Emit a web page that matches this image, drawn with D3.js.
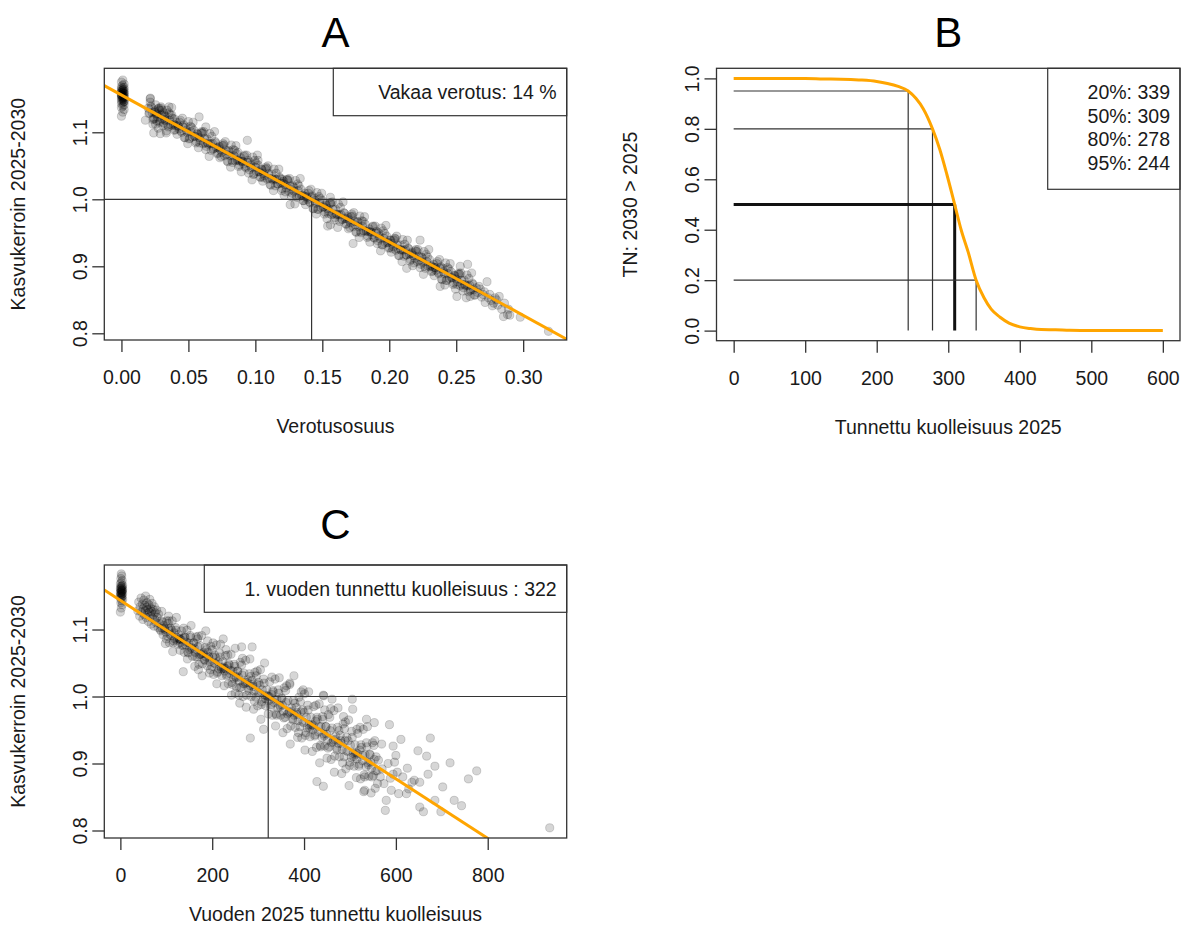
<!DOCTYPE html>
<html>
<head>
<meta charset="utf-8">
<script src="https://cdn.jsdelivr.net/npm/d3@7"></script>
<style>
  body { margin: 0; background: #fff; }
  text { font-family: "Liberation Sans", Arial, sans-serif; }
</style>
</head>
<body>
<script>
// ---------- data ----------

// A: tax share vs growth factor (x = 0 column, main band, loose points)
const aPoints = [
  [0.000,1.124],[0.001,1.130],[0.002,1.134],[0.000,1.137],[0.001,1.139],[0.002,1.141],[0.000,1.143],[0.001,1.144],[0.002,1.146],[0.000,1.147],
  [0.001,1.148],[0.002,1.149],[0.000,1.150],[0.001,1.151],[0.002,1.152],[0.000,1.153],[0.001,1.154],[0.002,1.155],[0.000,1.156],[0.001,1.157],
  [0.002,1.158],[0.000,1.159],[0.001,1.160],[0.002,1.161],[0.000,1.162],[0.001,1.163],[0.002,1.164],[0.000,1.165],[0.001,1.166],[0.002,1.167],
  [0.000,1.168],[0.001,1.170],[0.002,1.172],[0.000,1.175],[0.001,1.178],[0.001,1.152],[0.000,1.155],[0.002,1.158],[0.001,1.150],[0.000,1.160],
  [0.002,1.146],[0.001,1.163],[0.000,1.156],[0.002,1.153],[0.001,1.159],
  [0.020,1.136],[0.021,1.129],[0.022,1.139],[0.023,1.129],[0.024,1.121],[0.025,1.132],[0.026,1.127],[0.027,1.123],[0.028,1.136],[0.029,1.118],
  [0.030,1.126],[0.031,1.110],[0.032,1.126],[0.033,1.117],[0.034,1.133],[0.035,1.108],[0.036,1.118],[0.037,1.111],[0.038,1.121],[0.039,1.112],
  [0.040,1.104],[0.041,1.115],[0.042,1.110],[0.043,1.105],[0.044,1.118],[0.045,1.100],[0.046,1.108],[0.047,1.092],[0.048,1.108],[0.049,1.100],
  [0.050,1.116],[0.051,1.091],[0.052,1.101],[0.053,1.093],[0.054,1.103],[0.055,1.094],[0.056,1.086],[0.057,1.097],[0.058,1.092],[0.059,1.088],
  [0.060,1.101],[0.061,1.083],[0.062,1.091],[0.063,1.074],[0.064,1.090],[0.065,1.082],[0.066,1.098],[0.067,1.073],[0.068,1.083],[0.069,1.076],
  [0.070,1.086],[0.071,1.077],[0.072,1.069],[0.073,1.079],[0.074,1.074],[0.075,1.070],[0.076,1.083],[0.077,1.065],[0.078,1.073],[0.079,1.057],
  [0.080,1.073],[0.081,1.065],[0.082,1.081],[0.083,1.055],[0.084,1.065],[0.085,1.058],[0.086,1.068],[0.087,1.059],[0.088,1.051],[0.089,1.062],
  [0.090,1.057],[0.091,1.053],[0.092,1.066],[0.093,1.047],[0.094,1.055],[0.095,1.039],[0.096,1.055],[0.097,1.047],[0.098,1.063],[0.099,1.038],
  [0.100,1.048],[0.101,1.041],[0.102,1.051],[0.103,1.041],[0.104,1.033],[0.105,1.044],[0.106,1.039],[0.107,1.035],[0.108,1.048],[0.109,1.030],
  [0.110,1.038],[0.111,1.022],[0.112,1.038],[0.113,1.029],[0.114,1.045],[0.115,1.020],[0.116,1.030],[0.117,1.023],[0.118,1.033],[0.119,1.024],
  [0.120,1.016],[0.121,1.027],[0.122,1.022],[0.123,1.017],[0.124,1.030],[0.125,1.012],[0.126,1.020],[0.127,1.004],[0.128,1.020],[0.129,1.012],
  [0.130,1.028],[0.131,1.003],[0.132,1.013],[0.133,1.005],[0.134,1.015],[0.135,1.006],[0.136,0.998],[0.137,1.009],[0.138,1.004],[0.139,1.000],
  [0.140,1.013],[0.141,0.995],[0.142,1.003],[0.143,0.986],[0.144,1.002],[0.145,0.994],[0.146,1.010],[0.147,0.985],[0.148,0.995],[0.149,0.988],
  [0.150,0.998],[0.151,0.989],[0.152,0.981],[0.153,0.991],[0.154,0.986],[0.155,0.982],[0.156,0.995],[0.157,0.977],[0.158,0.985],[0.159,0.969],
  [0.160,0.985],[0.161,0.977],[0.162,0.993],[0.163,0.967],[0.164,0.977],[0.165,0.970],[0.166,0.980],[0.167,0.971],[0.168,0.963],[0.169,0.974],
  [0.170,0.969],[0.171,0.965],[0.172,0.978],[0.173,0.959],[0.174,0.967],[0.175,0.951],[0.176,0.967],[0.177,0.959],[0.178,0.975],[0.179,0.950],
  [0.180,0.960],[0.181,0.953],[0.182,0.963],[0.183,0.953],[0.184,0.945],[0.185,0.956],[0.186,0.951],[0.187,0.947],[0.188,0.960],[0.189,0.942],
  [0.190,0.950],[0.191,0.934],[0.192,0.950],[0.193,0.941],[0.194,0.957],[0.195,0.932],[0.196,0.942],[0.197,0.935],[0.198,0.945],[0.199,0.936],
  [0.200,0.928],[0.201,0.939],[0.202,0.934],[0.203,0.929],[0.204,0.942],[0.205,0.924],[0.206,0.932],[0.207,0.916],[0.208,0.932],[0.209,0.924],
  [0.210,0.940],[0.211,0.915],[0.212,0.925],[0.213,0.917],[0.214,0.927],[0.215,0.918],[0.216,0.910],[0.217,0.921],[0.218,0.916],[0.219,0.912],
  [0.220,0.925],[0.221,0.907],[0.222,0.915],[0.223,0.898],[0.224,0.914],[0.225,0.906],[0.226,0.922],[0.227,0.897],[0.228,0.907],[0.229,0.900],
  [0.230,0.910],[0.231,0.901],[0.232,0.893],[0.233,0.903],[0.234,0.898],[0.235,0.894],[0.236,0.907],[0.237,0.889],[0.238,0.897],[0.239,0.881],
  [0.240,0.897],[0.241,0.889],[0.242,0.905],[0.243,0.879],[0.244,0.889],[0.245,0.882],[0.246,0.892],[0.247,0.883],[0.248,0.875],[0.249,0.886],
  [0.250,0.881],[0.251,0.877],[0.252,0.890],[0.253,0.871],[0.254,0.879],[0.255,0.863],[0.256,0.879],[0.257,0.871],[0.258,0.887],[0.259,0.862],
  [0.260,0.872],[0.261,0.865],[0.262,0.875],[0.263,0.865],[0.264,0.857],[0.265,0.868],
  [0.0205,1.128],[0.0225,1.137],[0.0245,1.130],[0.0265,1.117],[0.0285,1.133],[0.0305,1.120],[0.0325,1.124],[0.0345,1.111],[0.0365,1.126],[0.0385,1.110],
  [0.0405,1.110],[0.0425,1.109],[0.0445,1.102],[0.0465,1.111],[0.0485,1.103],[0.0505,1.090],[0.0525,1.107],[0.0545,1.094],[0.0565,1.098],[0.0585,1.084],
  [0.0605,1.099],[0.0625,1.084],[0.0645,1.084],[0.0665,1.083],[0.0685,1.075],[0.0705,1.084],[0.0725,1.077],[0.0745,1.064],[0.0765,1.081],[0.0785,1.067],
  [0.0805,1.071],[0.0825,1.058],[0.0845,1.073],[0.0865,1.058],[0.0885,1.057],[0.0905,1.056],[0.0925,1.049],[0.0945,1.058],[0.0965,1.051],[0.0985,1.037],
  [0.1005,1.054],[0.1025,1.041],[0.1045,1.045],[0.1065,1.032],[0.1085,1.046],[0.1105,1.031],[0.1125,1.031],[0.1145,1.030],[0.1165,1.023],[0.1185,1.031],
  [0.1205,1.024],[0.1225,1.011],[0.1245,1.028],[0.1265,1.015],[0.1285,1.018],[0.1305,1.005],[0.1325,1.020],[0.1345,1.005],[0.1365,1.005],[0.1385,1.003],
  [0.1405,0.996],[0.1425,1.005],[0.1445,0.998],[0.1465,0.985],[0.1485,1.001],[0.1505,0.988],[0.1525,0.992],[0.1545,0.979],[0.1565,0.994],[0.1585,0.978],
  [0.1605,0.978],[0.1625,0.977],[0.1645,0.970],[0.1665,0.979],[0.1685,0.971],[0.1705,0.958],[0.1725,0.975],[0.1745,0.962],[0.1765,0.966],[0.1785,0.952],
  [0.1805,0.967],[0.1825,0.952],[0.1845,0.952],[0.1865,0.951],[0.1885,0.943],[0.1905,0.952],[0.1925,0.945],[0.1945,0.932],[0.1965,0.949],[0.1985,0.935],
  [0.2005,0.939],[0.2025,0.926],[0.2045,0.941],[0.2065,0.926],[0.2085,0.925],[0.2105,0.924],[0.2125,0.917],[0.2145,0.926],[0.2165,0.919],[0.2185,0.905],
  [0.2205,0.922],[0.2225,0.909],[0.2245,0.913],[0.2265,0.900],[0.2285,0.914],[0.2305,0.899],[0.2325,0.899],[0.2345,0.898],[0.2365,0.891],[0.2385,0.899],
  [0.2405,0.892],[0.2425,0.879],[0.2445,0.896],[0.2465,0.883],[0.2485,0.886],[0.2505,0.873],[0.2525,0.888],[0.2545,0.873],[0.2565,0.873],[0.2585,0.871],
  [0.2605,0.864],[0.2625,0.873],
  [0.0215,1.150],[0.0255,1.112],[0.0295,1.136],[0.0335,1.099],[0.0375,1.137],[0.0415,1.097],[0.0455,1.121],[0.0495,1.083],[0.0535,1.115],[0.0575,1.077],
  [0.0615,1.101],[0.0655,1.064],[0.0695,1.101],[0.0735,1.062],[0.0775,1.086],[0.0815,1.048],[0.0855,1.080],[0.0895,1.041],[0.0935,1.066],[0.0975,1.029],
  [0.1015,1.066],[0.1055,1.027],[0.1095,1.050],[0.1135,1.013],[0.1175,1.045],[0.1215,1.006],[0.1255,1.031],[0.1295,0.993],[0.1335,1.031],[0.1375,0.992],
  [0.1415,1.015],[0.1455,0.978],[0.1495,1.009],[0.1535,0.971],[0.1575,0.996],[0.1615,0.958],[0.1655,0.996],[0.1695,0.956],[0.1735,0.980],[0.1775,0.943],
  [0.1815,0.974],[0.1855,0.936],[0.1895,0.960],[0.1935,0.923],[0.1975,0.961],[0.2015,0.921],[0.2055,0.945],[0.2095,0.907],[0.2135,0.939],[0.2175,0.901],
  [0.2215,0.925],[0.2255,0.888],[0.2295,0.925],[0.2335,0.886],[0.2375,0.910],[0.2415,0.872],[0.2455,0.904],[0.2495,0.866],[0.2535,0.890],[0.2575,0.853],
  [0.2615,0.890],
  [0.0235,1.119],[0.0275,1.135],[0.0315,1.114],[0.0355,1.129],[0.0395,1.103],[0.0435,1.115],[0.0475,1.092],[0.0515,1.109],[0.0555,1.084],[0.0595,1.099],
  [0.0635,1.079],[0.0675,1.094],[0.0715,1.068],[0.0755,1.080],[0.0795,1.056],[0.0835,1.074],[0.0875,1.049],[0.0915,1.064],[0.0955,1.044],[0.0995,1.058],
  [0.1035,1.033],[0.1075,1.045],[0.1115,1.021],[0.1155,1.039],[0.1195,1.013],[0.1235,1.029],[0.1275,1.009],[0.1315,1.023],[0.1355,0.998],[0.1395,1.009],
  [0.1435,0.986],[0.1475,1.004],[0.1515,0.978],[0.1555,0.994],[0.1595,0.973],[0.1635,0.988],[0.1675,0.963],[0.1715,0.974],[0.1755,0.951],[0.1795,0.968],
  [0.1835,0.943],[0.1875,0.959],[0.1915,0.938],[0.1955,0.953],[0.1995,0.927],[0.2035,0.939],[0.2075,0.916],[0.2115,0.933],[0.2155,0.908],[0.2195,0.923],
  [0.2235,0.903],[0.2275,0.918],[0.2315,0.892],[0.2355,0.904],[0.2395,0.880],[0.2435,0.898],[0.2475,0.873],[0.2515,0.888],[0.2555,0.868],[0.2595,0.882],
  [0.2635,0.857],
  [0.0215,1.145],[0.0235,1.112],[0.0255,1.141],[0.0275,1.106],[0.0295,1.138],[0.0315,1.129],[0.0335,1.102],[0.0355,1.138],[0.0375,1.126],[0.0395,1.120],
  [0.0245,1.120],[0.0285,1.115],[0.0325,1.119],[0.0305,1.133],[0.0265,1.128],[0.0179,1.118],[0.0216,1.151],[0.0241,1.099],[0.0290,1.098],
  [0.058,1.123],[0.063,1.108],[0.087,1.070],[0.094,1.088],[0.102,1.058],[0.120,1.030],[0.126,0.992],[0.154,0.960],[0.156,1.003],[0.156,0.962],
  [0.173,0.934],[0.213,0.897],[0.223,0.939],[0.238,0.870],[0.2505,0.855],[0.253,0.900],[0.2585,0.903],[0.2604,0.855],[0.267,0.870],[0.270,0.858],
  [0.2716,0.846],[0.273,0.877],[0.274,0.853],[0.276,0.849],[0.278,0.845],[0.280,0.850],[0.2821,0.855],[0.2853,0.825],[0.2883,0.828],[0.2978,0.824],
  [0.266,0.861],[0.268,0.866],[0.269,0.854],[0.271,0.862],[0.275,0.858],[0.277,0.841],[0.279,0.853],[0.281,0.842],[0.284,0.836],[0.286,0.845],
  [0.289,0.836],[0.290,0.827],[0.3189,0.803]
];
const aFit = [1.1556, -1.096];          // intercept, slope of the orange line
const aStable = [0.142, 1.0];           // stable tax share, growth factor 1
const aLegend = ['Vakaa verotus: 14 %'];
const aXTicks = [0, 0.05, 0.10, 0.15, 0.20, 0.25, 0.30];
const aYTicks = [0.8, 0.9, 1.0, 1.1];

// B: probability curve and its quantiles
const bCurveX = [0, 50, 100, 125, 150, 175, 200, 215, 230, 244, 255, 265, 278, 288, 298, 309, 318, 328, 339, 350, 360, 372, 385, 400, 415, 430, 450, 470, 500, 550, 600];
const bCurveY = [1, 1, 1, 0.998, 0.997, 0.994, 0.988, 0.98, 0.968, 0.95, 0.92, 0.88, 0.8, 0.72, 0.62, 0.5, 0.4, 0.31, 0.2, 0.13, 0.085, 0.054, 0.03, 0.015, 0.008, 0.004, 0.003, 0.001, 0, 0, 0];
const bProbs = [0.95, 0.8, 0.5, 0.2];
const bCuts = [244, 278, 309, 339];
const bLegend = ['20%: 339', '50%: 309', '80%: 278', '95%: 244'];
const bXTicks = [0, 100, 200, 300, 400, 500, 600];
const bYTicks = [0, 0.2, 0.4, 0.6, 0.8, 1.0];

// C: known mortality vs growth factor
const cPoints = [
  [0,1.126],[2,1.132],[4,1.137],[1,1.140],[3,1.143],[5,1.145],[0,1.147],[2,1.149],[4,1.150],[1,1.152],
  [3,1.153],[5,1.154],[0,1.155],[2,1.156],[4,1.157],[1,1.158],[3,1.159],[5,1.160],[0,1.161],[2,1.162],
  [4,1.163],[1,1.164],[3,1.165],[5,1.166],[0,1.168],[2,1.170],[4,1.173],[1,1.176],[3,1.180],[2,1.183],
  [0,1.151],[2,1.155],[4,1.158],[1,1.160],[3,1.148],
  [38,1.128],[40,1.141],[42,1.120],[43,1.134],[45,1.147],[46,1.126],[48,1.138],[49,1.115],[50,1.131],[51,1.144],
  [52,1.122],[53,1.136],[54,1.128],[55,1.150],[56,1.118],[57,1.133],[58,1.140],[59,1.124],[60,1.130],[61,1.112],
  [62,1.137],[63,1.126],[64,1.145],[65,1.120],[66,1.132],[67,1.108],[68,1.127],[69,1.139],[70,1.117],[71,1.130],
  [72,1.122],[73,1.105],[74,1.134],[75,1.115],[76,1.125],[78,1.110],[79,1.129],[80,1.118],[82,1.103],[83,1.123],
  [85,1.109],[87,1.100],[89,1.113],[91,1.102],[93,1.092],[95,1.106],[97,1.100],[99,1.096],[101,1.113],[103,1.090],
  [105,1.101],[107,1.080],[109,1.102],[111,1.091],[113,1.113],[115,1.080],[117,1.095],[119,1.086],[121,1.099],[123,1.088],
  [125,1.078],[127,1.092],[129,1.086],[131,1.081],[133,1.098],[135,1.076],[137,1.087],[139,1.066],[141,1.088],[143,1.077],
  [145,1.099],[147,1.066],[149,1.080],[151,1.070],[153,1.088],[155,1.073],[157,1.060],[159,1.080],[161,1.072],[163,1.066],
  [165,1.089],[167,1.059],[169,1.074],[171,1.048],[173,1.076],[175,1.063],[177,1.091],[179,1.049],[181,1.066],[183,1.055],
  [185,1.073],[187,1.059],[189,1.046],[191,1.066],[193,1.058],[195,1.052],[197,1.075],[199,1.045],[201,1.059],[203,1.033],
  [205,1.062],[207,1.049],[209,1.077],[211,1.035],[213,1.052],[215,1.041],[217,1.059],[219,1.044],[221,1.031],[223,1.052],
  [225,1.044],[227,1.038],[229,1.061],[231,1.031],[233,1.045],[235,1.019],[237,1.047],[239,1.034],[241,1.063],[243,1.021],
  [245,1.038],[247,1.027],[249,1.045],[251,1.030],[253,1.014],[255,1.038],[257,1.029],[259,1.023],[261,1.051],[263,1.014],
  [265,1.032],[267,1.000],[269,1.035],[271,1.019],[273,1.054],[275,1.002],[277,1.025],[279,1.012],[281,1.034],[283,1.016],
  [285,1.000],[287,1.024],[289,1.015],[291,1.008],[293,1.036],[295,0.999],[297,1.018],[299,0.986],[301,1.021],[303,1.005],
  [305,1.040],[307,0.988],[309,1.010],[311,0.997],[313,1.020],[315,1.002],[317,0.986],[319,1.010],[321,1.001],[323,0.994],
  [325,1.022],[327,0.985],[329,1.003],[331,0.972],[333,1.007],[335,0.991],[337,1.026],[339,0.974],[341,0.996],[343,0.983],
  [345,1.005],[347,0.987],[349,0.972],[351,0.998],[353,0.987],[355,0.978],[357,1.013],[359,0.969],[361,0.991],[363,0.952],
  [365,0.994],[367,0.976],[369,1.018],[371,0.956],[373,0.983],[375,0.967],[377,0.994],[379,0.972],[381,0.954],[383,0.984],
  [385,0.973],[387,0.964],[389,0.999],[391,0.955],[393,0.977],[395,0.938],[397,0.980],[399,0.961],[401,1.004],[403,0.942],
  [405,0.969],[407,0.953],[409,0.980],[411,0.958],[413,0.940],[415,0.969],[417,0.958],[419,0.950],[421,0.985],[423,0.941],
  [425,0.963],[427,0.924],[429,0.966],[431,0.947],[433,0.989],[435,0.927],[437,0.955],[439,0.939],[441,0.966],[443,0.944],
  [445,0.926],[447,0.955],[449,0.944],[451,0.935],[453,0.973],[455,0.925],[457,0.949],[459,0.906],[461,0.953],[463,0.932],
  [465,0.979],[467,0.911],[469,0.941],[471,0.923],[473,0.954],[475,0.930],[477,0.910],[479,0.942],[481,0.930],[483,0.921],
  [485,0.959],[487,0.910],[489,0.934],[491,0.892],[493,0.939],[495,0.918],[497,0.965],[499,0.897],[501,0.927],[503,0.909],
  [505,0.939],[507,0.915],[509,0.896],[511,0.928],[513,0.916],[515,0.907],[517,0.945],[519,0.896],[521,0.920],[523,0.877],
  [525,0.924],[527,0.904],[529,0.951],[531,0.883],[533,0.913],[535,0.895],[537,0.925],[539,0.901],[541,0.881],[543,0.914],
  [545,0.902],[547,0.893],[549,0.931],[551,0.882],[553,0.906],[555,0.863],[557,0.910],[559,0.889],
  [88,1.098],[92,1.111],[96,1.102],[100,1.086],[104,1.109],[108,1.093],[112,1.099],[116,1.083],[120,1.103],[124,1.084],
  [128,1.086],[132,1.085],[136,1.077],[140,1.089],[144,1.081],[148,1.065],[152,1.091],[156,1.071],[160,1.080],[164,1.059],
  [168,1.086],[172,1.062],[176,1.063],[180,1.064],[184,1.054],[188,1.070],[192,1.060],[196,1.040],[200,1.070],[204,1.050],
  [208,1.058],[212,1.037],[216,1.065],[220,1.041],[224,1.042],[228,1.042],[232,1.033],[236,1.049],[240,1.039],[244,1.018],
  [248,1.048],[252,1.028],[256,1.038],[260,1.013],[264,1.047],[268,1.019],[272,1.021],[276,1.021],[280,1.009],[284,1.030],
  [288,1.018],[292,0.993],[296,1.031],[300,1.006],[304,1.017],[308,0.992],[312,1.026],[316,0.997],[320,1.000],[324,1.000],
  [328,0.988],[332,1.009],[336,0.996],[340,0.972],[344,1.010],[348,0.985],[352,0.997],[356,0.968],[360,1.009],[364,0.974],
  [368,0.977],[372,0.978],[376,0.965],[380,0.990],[384,0.976],[388,0.946],[392,0.992],[396,0.963],[400,0.976],[404,0.946],
  [408,0.987],[412,0.953],[416,0.956],[420,0.957],[424,0.943],[428,0.969],[432,0.955],[436,0.925],[440,0.970],[444,0.941],
  [448,0.955],[452,0.923],[456,0.969],[460,0.931],[464,0.935],[468,0.936],[472,0.920],[476,0.949],[480,0.934],[484,0.901],
  [488,0.952],[492,0.919],[496,0.934],[500,0.902],[504,0.948],[508,0.910],[512,0.913],[516,0.915],[520,0.899],[524,0.928],
  [528,0.912],[532,0.880],[536,0.931],[540,0.898],[544,0.913],[548,0.880],[552,0.927],[556,0.889],
  [90,1.127],[98,1.079],[106,1.113],[114,1.067],[122,1.118],[130,1.069],[138,1.102],[146,1.056],[154,1.106],[162,1.045],
  [170,1.090],[178,1.031],[186,1.098],[194,1.035],[202,1.080],[210,1.019],[218,1.078],[226,1.016],[234,1.062],[242,1.002],
  [250,1.072],[258,1.002],[266,1.057],[274,0.984],[282,1.056],[290,0.981],[298,1.038],[306,0.966],[314,1.050],[322,0.974],
  [330,1.029],[338,0.956],[346,1.028],[354,0.946],[362,1.016],[370,0.929],[378,1.031],[386,0.939],[394,1.007],[402,0.920],
  [410,1.007],[418,0.918],[426,0.987],[434,0.901],[442,1.002],[450,0.908],[458,0.982],[466,0.887],[474,0.983],[482,0.885],
  [490,0.962],[498,0.867],[506,0.981],[514,0.879],[522,0.954],[530,0.858],[538,0.955],[546,0.856],[554,0.934],
  [105,1.120],[137,1.037],[170,1.040],[190,1.083],[224,1.086],[230,1.070],[250,1.005],[260,0.990],[264,1.074],[287,1.074],
  [283,0.938],[312,0.951],[369,1.020],[398,1.010],[443,1.001],[461,0.996],[505,0.996],[428,0.873],[442,0.866],[532,0.860],
  [445,0.980],[486,0.970],[515,0.951],[536,0.966],[553,0.961],[560,0.870],[562,0.905],[566,0.880],[569,0.929],[570,0.892],
  [574,0.870],[577,0.830],[579,0.845],[583,0.900],[586,0.958],[588,0.878],[590,0.860],[594,0.884],[594,0.926],[597,0.902],
  [600,0.912],[603,0.887],[606,0.855],[611,0.936],[615,0.880],[623,0.855],[625,0.893],[628,0.862],[635,0.872],[640,0.875],
  [648,0.919],[652,0.835],[652,0.872],[660,0.828],[667,0.911],[670,0.884],[675,0.938],[685,0.845],[685,0.896],[698,0.828],
  [702,0.865],[718,0.901],[727,0.845],[743,0.837],[758,0.877],[776,0.889],[935,0.804]
];
const cFit = [1.1435, -0.000444];
const cFirstYear = [322, 1.0];
const cLegend = ['1. vuoden tunnettu kuolleisuus : 322'];
const cXTicks = [0, 200, 400, 600, 800];
const cYTicks = [0.8, 0.9, 1.0, 1.1];

// ---------- layout ----------
const width = 1184, height = 933;
const ink = '#333';
const orange = '#FFA500';
const fontSize = '19.5px';

const svg = d3.select('body').append('svg')
    .attr('width', width)
    .attr('height', height);

// one base-R style panel: box, ticks, rotated y labels, titles
function panel(o) {
  const x = d3.scaleLinear().domain(o.xDomain).range([o.box.left, o.box.right]);
  const y = d3.scaleLinear().domain(o.yDomain).range([o.box.bottom, o.box.top]);
  const g = svg.append('g');

  svg.append('clipPath').attr('id', 'clip' + o.title)
    .append('rect')
    .attr('x', o.box.left).attr('y', o.box.top)
    .attr('width', o.box.right - o.box.left)
    .attr('height', o.box.bottom - o.box.top);

  const xa = g.append('g')
      .attr('transform', 'translate(0,' + o.box.bottom + ')')
      .call(d3.axisBottom(x).tickValues(o.xTicks).tickFormat(o.xFormat).tickSize(12));
  xa.select('.domain').remove();
  xa.selectAll('line').attr('stroke', ink).attr('stroke-width', 1.3);
  xa.selectAll('text')
      .attr('y', 37).attr('dy', '0.35em')
      .attr('fill', '#1a1a1a')
      .style('font-size', fontSize);

  const ya = g.append('g')
      .attr('transform', 'translate(' + o.box.left + ',0)')
      .call(d3.axisLeft(y).tickValues(o.yTicks).tickFormat(o.yFormat).tickSize(12));
  ya.select('.domain').remove();
  ya.selectAll('line').attr('stroke', ink).attr('stroke-width', 1.3);
  ya.selectAll('text')
      .attr('x', null).attr('dy', '0.35em')
      .attr('text-anchor', 'middle')
      .attr('transform', 'translate(-24,0) rotate(-90)')
      .attr('fill', '#1a1a1a')
      .style('font-size', fontSize);

  const cx = (o.box.left + o.box.right) / 2;
  const cy = (o.box.top + o.box.bottom) / 2;

  g.append('text')
      .attr('x', cx).attr('y', o.box.top - o.titleGap)
      .attr('text-anchor', 'middle')
      .style('font-size', '42px')
      .attr('fill', '#000')
      .text(o.title);

  g.append('text')
      .attr('x', cx).attr('y', o.box.bottom + o.xLabelGap)
      .attr('text-anchor', 'middle')
      .style('font-size', fontSize)
      .attr('fill', '#1a1a1a')
      .text(o.xLabel);

  g.append('text')
      .attr('transform', 'translate(' + (o.box.left - 86.5) + ',' + cy + ') rotate(-90)')
      .attr('dy', '0.35em')
      .attr('text-anchor', 'middle')
      .style('font-size', fontSize)
      .attr('fill', '#1a1a1a')
      .text(o.yLabel);

  const plot = g.append('g').attr('clip-path', 'url(#clip' + o.title + ')');
  const top = g.append('g');
  return {x: x, y: y, plot: plot, top: top, box: o.box};
}

function drawPoints(p, data) {
  p.plot.append('g')
    .selectAll('circle')
    .data(data)
    .enter()
    .append('circle')
      .attr('cx', d => p.x(d[0]))
      .attr('cy', d => p.y(d[1]))
      .attr('r', 4.1)
      .attr('fill', 'rgba(0,0,0,0.16)')
      .attr('stroke', 'rgba(0,0,0,0.16)')
      .attr('stroke-width', 1);
}

function drawCross(p, at) {
  const dom = p.x.domain();
  p.plot.append('line')
      .attr('x1', p.x(dom[0])).attr('x2', p.x(dom[1]))
      .attr('y1', p.y(at[1])).attr('y2', p.y(at[1]))
      .attr('stroke', ink).attr('stroke-width', 1.2);
  p.plot.append('line')
      .attr('x1', p.x(at[0])).attr('x2', p.x(at[0]))
      .attr('y1', p.y(p.y.domain()[0])).attr('y2', p.y(at[1]))
      .attr('stroke', ink).attr('stroke-width', 1.2);
}

function drawFit(p, fit) {
  const dom = p.x.domain();
  p.plot.append('line')
      .attr('x1', p.x(dom[0])).attr('y1', p.y(fit[0] + fit[1] * dom[0]))
      .attr('x2', p.x(dom[1])).attr('y2', p.y(fit[0] + fit[1] * dom[1]))
      .attr('stroke', orange).attr('stroke-width', 3);
}

function drawLegend(p, left, bottom, lines) {
  p.top.append('rect')
      .attr('x', left).attr('y', p.box.top)
      .attr('width', p.box.right - left).attr('height', bottom - p.box.top)
      .attr('fill', '#fff').attr('stroke', ink).attr('stroke-width', 1.2);
  p.top.selectAll('text.leg')
    .data(lines)
    .enter()
    .append('text')
      .attr('class', 'leg')
      .attr('x', p.box.right - 10)
      .attr('y', (d, i) => p.box.top + 31 + i * 23.4)
      .attr('text-anchor', 'end')
      .style('font-size', fontSize)
      .attr('fill', '#1a1a1a')
      .text(d => d);
}

function drawBox(p) {
  p.top.append('rect')
      .attr('x', p.box.left).attr('y', p.box.top)
      .attr('width', p.box.right - p.box.left)
      .attr('height', p.box.bottom - p.box.top)
      .attr('fill', 'none').attr('stroke', ink).attr('stroke-width', 1.3);
}

// ---------- A ----------
const pA = panel({
  title: 'A', titleGap: 21, xLabelGap: 93,
  box: {left: 104.3, right: 566.7, top: 68.3, bottom: 340},
  xDomain: [-0.0128, 0.3325], yDomain: [0.79, 1.1955],
  xTicks: aXTicks, yTicks: aYTicks,
  xFormat: d3.format('.2f'), yFormat: d3.format('.1f'),
  xLabel: 'Verotusosuus', yLabel: 'Kasvukerroin 2025-2030'
});
drawPoints(pA, aPoints);
drawCross(pA, aStable);
drawFit(pA, aFit);
drawLegend(pA, 333.3, 115.7, aLegend);
drawBox(pA);

// ---------- B ----------
const pB = panel({
  title: 'B', titleGap: 21, xLabelGap: 93,
  box: {left: 716.5, right: 1180, top: 68.3, bottom: 340.7},
  xDomain: [-24, 624], yDomain: [-0.04, 1.04],
  xTicks: bXTicks, yTicks: bYTicks,
  xFormat: d3.format('d'), yFormat: d3.format('.1f'),
  xLabel: 'Tunnettu kuolleisuus 2025', yLabel: 'TN: 2030 > 2025'
});

bProbs.forEach(function(pr, i) {
  const thick = pr === 0.5;
  const col = thick ? '#111' : ink;
  const w = thick ? 3 : 1.2;
  pB.plot.append('line')
      .attr('x1', pB.x(0)).attr('x2', pB.x(bCuts[i]))
      .attr('y1', pB.y(pr)).attr('y2', pB.y(pr))
      .attr('stroke', col).attr('stroke-width', w);
  pB.plot.append('line')
      .attr('x1', pB.x(bCuts[i])).attr('x2', pB.x(bCuts[i]))
      .attr('y1', pB.y(0)).attr('y2', pB.y(pr))
      .attr('stroke', col).attr('stroke-width', w);
});

const bLine = d3.line()
    .x(d => pB.x(d[0]))
    .y(d => pB.y(d[1]))
    .curve(d3.curveMonotoneX);
pB.plot.append('path')
    .datum(d3.zip(bCurveX, bCurveY))
    .attr('d', bLine)
    .attr('fill', 'none')
    .attr('stroke', orange)
    .attr('stroke-width', 3);

drawLegend(pB, 1047.7, 189.3, bLegend);
drawBox(pB);

// ---------- C ----------
const pC = panel({
  title: 'C', titleGap: 26, xLabelGap: 83,
  box: {left: 104.3, right: 566.7, top: 565, bottom: 838},
  xDomain: [-35, 972], yDomain: [0.7888, 1.1963],
  xTicks: cXTicks, yTicks: cYTicks,
  xFormat: d3.format('d'), yFormat: d3.format('.1f'),
  xLabel: 'Vuoden 2025 tunnettu kuolleisuus', yLabel: 'Kasvukerroin 2025-2030'
});
drawPoints(pC, cPoints);
drawCross(pC, cFirstYear);
drawFit(pC, cFit);
drawLegend(pC, 204.3, 612.3, cLegend);
drawBox(pC);
</script>
</body>
</html>
